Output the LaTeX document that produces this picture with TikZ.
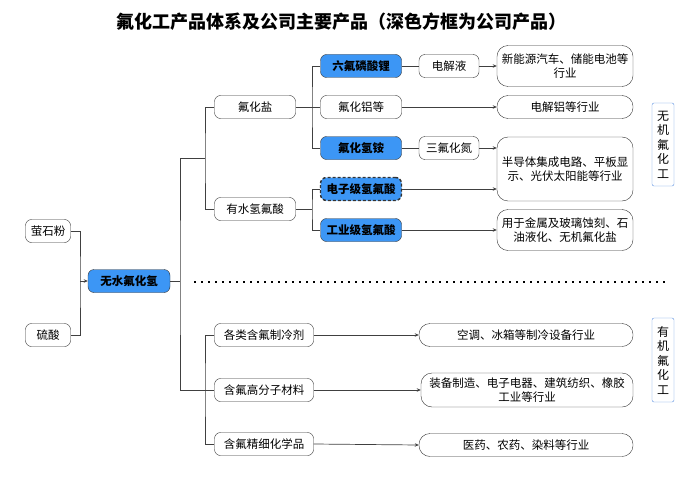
\documentclass[tikz,border=0pt]{standalone}
\usepackage{fontspec}
\setmainfont{Noto Sans CJK SC}
\usepackage{xcolor}
\usepackage{tikz}
\usetikzlibrary{arrows.meta}
\definecolor{hfblue}{HTML}{3C96F5}
\definecolor{sideblue}{HTML}{5B8FE0}

\begin{document}
\begin{tikzpicture}[x=1pt,y=-1pt,
	box/.style={draw=black!80,rounded corners=6pt,minimum height=23pt,inner sep=1pt,align=center,font=\fontsize{11.5}{14}\selectfont},
	prod/.style={box,fill=hfblue,font=\fontsize{11.5}{14}\selectfont\bfseries},
	app/.style={box,rounded corners=11pt,minimum width=136pt},
	side/.style={draw=sideblue,rounded corners=2pt,minimum width=22pt,inner sep=2pt,align=center,font=\fontsize{12}{14.5}\selectfont},
	link/.style={black!75,line width=0.7pt},
	arr/.style={link,-{Stealth[length=4pt,width=3.5pt]}}]
	\useasboundingbox (0,0) rectangle (700,476);
	\node[font=\fontsize{18}{20}\selectfont\bfseries] (title) at (341,22) {氟化工产品体系及公司主要产品（深色方框为公司产品）};

	\node[box,minimum width=45pt] (fluor) at (48,231) {萤石粉};
	\node[box,minimum width=45pt] (sulf) at (48,335) {硫酸};
	\node[prod,minimum width=82pt] (hf) at (129,281) {无水氟化氢};

	\node[box,minimum width=81pt] (salt) at (255,107) {氟化盐};
	\node[box,minimum width=81pt] (aq) at (255,209) {有水氢氟酸};
	\node[box,minimum width=99pt] (cool) at (264,335) {各类含氟制冷剂};
	\node[box,minimum width=99pt] (poly) at (264,390) {含氟高分子材料};
	\node[box,minimum width=99pt] (fine) at (264,444) {含氟精细化学品};

	\node[prod,minimum width=81pt] (lipf) at (361,66) {六氟磷酸锂};
	\node[box,minimum width=81pt] (alf) at (361,107) {氟化铝等};
	\node[prod,minimum width=81pt] (nh4) at (361,148) {氟化氢铵};
	\node[prod,minimum width=81pt,dashed,line width=1.4pt,dash pattern=on 3pt off 2pt] (ehf) at (361,189) {电子级氢氟酸};
	\node[prod,minimum width=81pt] (ihf) at (361,230) {工业级氢氟酸};

	\node[box,minimum width=60pt] (elec) at (449,66) {电解液};
	\node[box,minimum width=60pt] (nf3) at (449,148) {三氟化氮};

	\node[app,minimum height=41pt] (ev) at (565,66) {新能源汽车、储能电池等\\行业};
	\node[app] (alapp) at (565,107) {电解铝等行业};
	\node[app,minimum height=64pt] (semi) at (565,169) {半导体集成电路、平板显\\示、光伏太阳能等行业};
	\node[app,minimum height=41pt] (etch) at (565,230) {用于金属及玻璃蚀刻、石\\油液化、无机氟化盐};
	\node[app,minimum width=214pt] (ac) at (526,335) {空调、冰箱等制冷设备行业};
	\node[app,minimum width=212pt,minimum height=34pt] (equip) at (527,390) {装备制造、电子电器、建筑纺织、橡胶\\工业等行业};
	\node[app,minimum width=214pt] (med) at (526,445) {医药、农药、染料等行业};

	\node[side,minimum height=83pt] (inorg) at (663,144.5) {无\\机\\氟\\化\\工};
	\node[side,minimum height=84pt] (org) at (663,360) {有\\机\\氟\\化\\工};

	\coordinate (m) at (80,281);
	\coordinate (hub) at (180,281);
	\coordinate (t1) at (205,158);
	\coordinate (t3) at (205,390);
	\coordinate (s) at (312,107);
	\coordinate (a) at (312,209);

	\draw[link] (fluor.east) -| (m) |- (sulf.east);
	\draw[arr] (m) -- (hf.west);
	\draw[link] (hf.east) -- (hub);
	\draw[link] (t1) -| (hub) |- (t3);
	\draw[link] (salt.west) -| (t1) |- (aq.west);
	\draw[link] (cool.west) -| (t3) |- (fine.west);
	\draw[link] (t3) -- (poly.west);

	\draw[link] (lipf.west) -| (s) |- (nh4.west);
	\draw[link] (salt.east) -- (alf.west);
	\draw[link] (ehf.west) -| (a) |- (ihf.west);
	\draw[link] (aq.east) -- (a);

	\draw[link] (lipf.east) -- (elec.west);
	\draw[arr] (elec.east) -- (ev.west);
	\draw[arr] (alf.east) -- (alapp.west);
	\draw[link] (nh4.east) -- (nf3.west);
	\draw[arr] (nf3.east) -- (semi.west |- nf3.east);
	\draw[arr] (ehf.east) -- (semi.west |- ehf.east);
	\draw[arr] (ihf.east) -- (etch.west);

	\draw[arr] (cool.east) -- (ac.west);
	\draw[arr] (poly.east) -- (equip.west);
	\draw[arr] (fine.east) -- (med.west);

	\draw[line width=1.5pt,dash pattern=on 1.5pt off 5.5pt] (194,282) -- (670,282);
\end{tikzpicture}
\end{document}
